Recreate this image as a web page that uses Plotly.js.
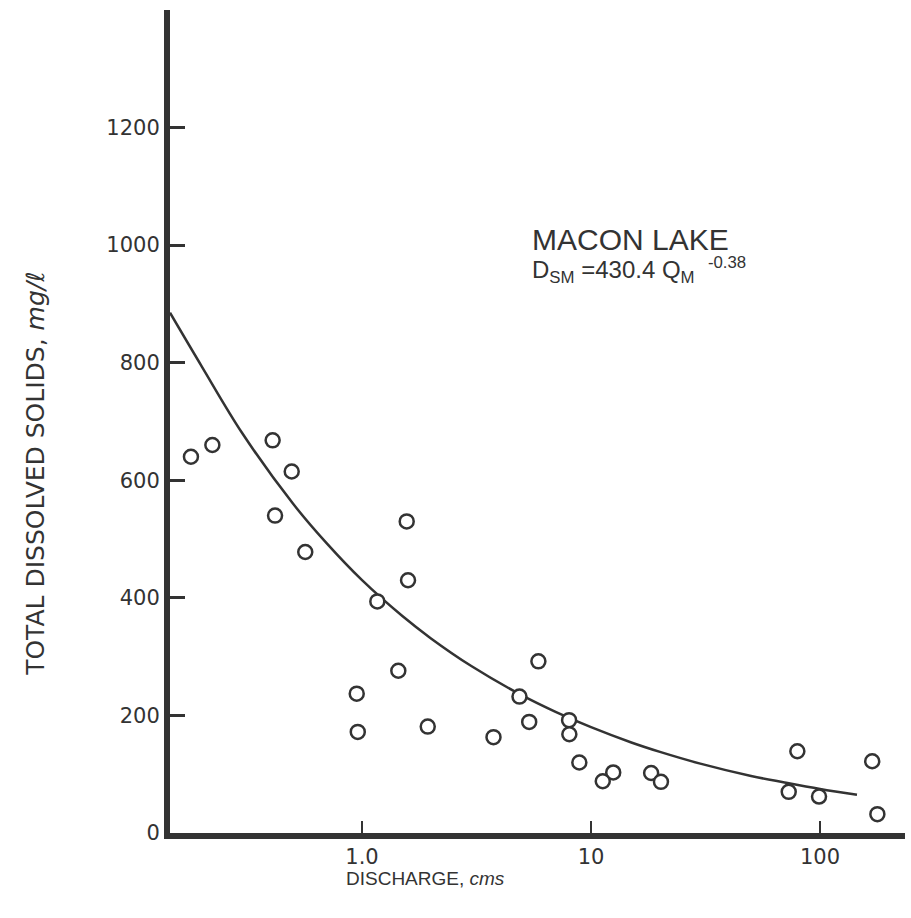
<!DOCTYPE html>
<html>
<head>
<meta charset="utf-8">
<script src="https://cdn.plot.ly/plotly-3.0.1.min.js"></script>
<style>html,body{margin:0;padding:0;background:#fff;}#chart{width:911px;height:918px;}</style>
</head>
<body>
<div id="chart"></div>
<script>
// Observed samples (discharge, cms ; total dissolved solids, mg/l)
const discharge = [0.179, 0.222, 0.407, 0.493, 0.417, 0.565, 1.567, 1.588, 1.166, 5.89,
  1.44, 0.948, 4.87, 0.958, 1.936, 3.75, 5.37, 8.02, 8.04, 8.89,
  12.5, 11.25, 18.3, 20.2, 79.6, 73, 99, 169, 178];
const tds = [640, 660, 668, 615, 540, 478, 530, 430, 394, 292,
  276, 237, 232, 172, 181, 163, 189, 192, 168, 120,
  103, 88, 102, 87, 139, 70, 62, 122, 32];

// Fitted curve
const curveQ = [0.145, 0.2, 0.3, 0.5, 0.7, 1, 1.5, 2, 3, 5, 7, 10, 15, 20, 30, 50, 70, 100, 145];
const curveD = [885, 793, 680, 560, 493, 430, 369, 331, 284, 234, 206, 180, 154, 138, 118, 97, 86, 75, 65];

const xTickVals = [1, 10, 100];
const xTickText = ['1.0', '10', '100'];
const yTickVals = [0, 200, 400, 600, 800, 1000, 1200];

const ink = '#333333';
const tickFont = {family: 'DejaVu Sans', size: 21, color: ink};

const traces = [
  {x: curveQ, y: curveD, mode: 'lines', type: 'scatter',
   line: {color: ink, width: 2.5, shape: 'spline'}, hoverinfo: 'skip'},
  {x: discharge, y: tds, mode: 'markers', type: 'scatter',
   marker: {symbol: 'circle', size: 14, color: '#ffffff', line: {color: ink, width: 2.5}}}
];

const layout = {
  width: 911, height: 918,
  margin: {l: 170, r: 6, t: 10, b: 85},
  paper_bgcolor: '#ffffff', plot_bgcolor: '#ffffff',
  showlegend: false,
  xaxis: {
    type: 'log', range: [Math.log10(0.145), Math.log10(235)],
    showgrid: false, zeroline: false,
    showline: true, linecolor: ink, linewidth: 6,
    ticks: 'inside', ticklen: 12, tickwidth: 2.5, tickcolor: ink,
    tickvals: xTickVals, ticktext: xTickText,
    tickfont: tickFont
  },
  yaxis: {
    range: [0, 1400],
    showgrid: false, zeroline: false,
    showline: true, linecolor: ink, linewidth: 6,
    ticks: 'inside', ticklen: 15, tickwidth: 3, tickcolor: ink,
    tickvals: yTickVals,
    tickfont: tickFont
  },
  annotations: [
    {text: 'MACON LAKE', xref: 'paper', yref: 'paper', x: 0.49, y: 0.7206,
     xanchor: 'left', yanchor: 'middle', showarrow: false,
     font: {family: 'Liberation Sans', size: 30, color: ink}},
    {text: 'D<sub>SM</sub> =430.4 Q<sub>M</sub>  <sup>-0.38</sup>', xref: 'paper', yref: 'paper',
     x: 0.49, y: 0.684, xanchor: 'left', yanchor: 'middle', showarrow: false,
     font: {family: 'Liberation Sans', size: 24, color: ink}},
    {text: 'DISCHARGE, <i>cms</i>', xref: 'paper', yref: 'paper', x: 0.348, y: -0.0547,
     xanchor: 'center', yanchor: 'middle', showarrow: false,
     font: {family: 'Liberation Sans', size: 19, color: ink}},
    {text: 'TOTAL DISSOLVED SOLIDS, <i>mg/ℓ</i>', xref: 'paper', yref: 'paper',
     x: -0.183, y: 0.437, xanchor: 'center', yanchor: 'middle', textangle: -90,
     showarrow: false, font: {family: 'DejaVu Sans', size: 25, color: ink}}
  ]
};

Plotly.newPlot('chart', traces, layout, {displayModeBar: false, staticPlot: true});
</script>
</body>
</html>
